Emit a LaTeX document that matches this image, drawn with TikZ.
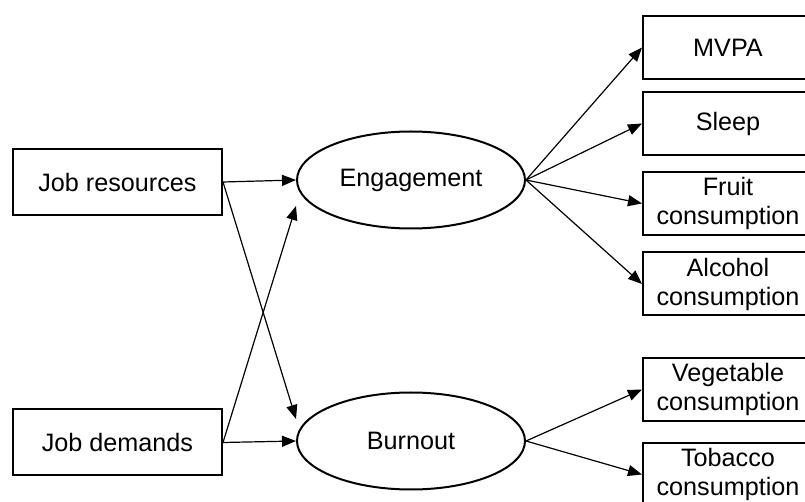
\documentclass[tikz,border=0pt]{standalone}
\usepackage{fontspec}
\setmainfont{Liberation Sans}
\usetikzlibrary{arrows.meta,shapes.geometric}

\begin{document}
\begin{tikzpicture}[x=0.5pt,y=-0.5pt,
	box/.style={draw,line width=1pt,inner sep=0pt,align=center,font=\fontsize{12.6}{14.5}\selectfont},
	jobbox/.style={box,minimum width=104.5pt,minimum height=33pt},
	outbox/.style={box,minimum width=85pt,minimum height=31.5pt},
	latent/.style={ellipse,draw,line width=1pt,inner sep=0pt,minimum width=114pt,minimum height=48.5pt,font=\fontsize{12.6}{14.5}\selectfont},
	link/.style={line width=0.6pt,-{Triangle[length=7pt,width=5.5pt]}}]
	%%%%% START %%%%%
	\useasboundingbox (0,0) rectangle (805,502);
	
	\node[jobbox] (res) at (117.5,182) {Job resources};
	\node[jobbox] (dem) at (117.5,442.5) {Job demands};
	
	\node[latent] (eng) at (411,180) {Engagement};
	\node[latent] (bur) at (411,441) {Burnout};
	
	\node[outbox] (mvpa) at (728,47.5) {MVPA};
	\node[outbox] (sleep) at (728,123.5) {Sleep};
	\node[outbox] (fruit) at (728,203.5) {Fruit\\consumption};
	\node[outbox] (alc) at (728,284) {Alcohol\\consumption};
	\node[outbox] (veg) at (728,389.5) {Vegetable\\consumption};
	\node[outbox] (tob) at (728,474.5) {Tobacco\\consumption};
	
	\draw[link] (res.east) -- (eng.west);
	\draw[link] (dem.east) -- (bur.west);
	\draw[link] (res.east) -- ([yshift=11pt]bur.west);
	\draw[link] (dem.east) -- ([yshift=-13pt]eng.west);
	
	\draw[link] (eng.east) -- (mvpa.west);
	\draw[link] (eng.east) -- (sleep.west);
	\draw[link] (eng.east) -- (fruit.west);
	\draw[link] (eng.east) -- (alc.west);
	
	\draw[link] (bur.east) -- (veg.west);
	\draw[link] (bur.east) -- (tob.west);
	%%%%% END %%%%%
\end{tikzpicture}
\end{document}
